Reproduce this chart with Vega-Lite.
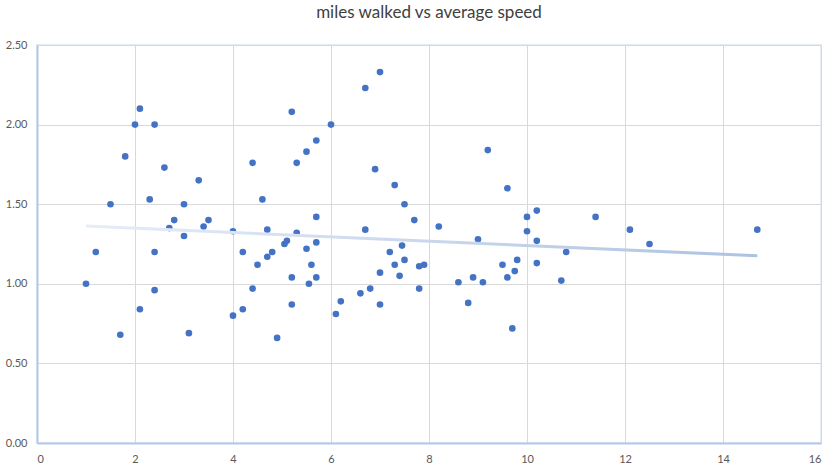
{
  "$schema": "https://vega.github.io/schema/vega-lite/v6.json",
  "autosize": {"type": "none"},
  "width": 784,
  "height": 398,
  "padding": {"left": 37, "top": 45, "right": 14, "bottom": 28},
  "background": "white",
  "title": {
    "text": "miles walked vs average speed",
    "font": "Lato",
    "fontSize": 17,
    "fontWeight": "normal",
    "color": "#404040",
    "offset": 17
  },
  "data": {
    "values": [
      {"miles": 1.0, "speed": 1.00}, {"miles": 1.2, "speed": 1.20}, {"miles": 1.5, "speed": 1.50},
      {"miles": 1.7, "speed": 0.68}, {"miles": 1.8, "speed": 1.80}, {"miles": 2.0, "speed": 2.00},
      {"miles": 2.1, "speed": 2.10}, {"miles": 2.1, "speed": 0.84}, {"miles": 2.3, "speed": 1.53},
      {"miles": 2.4, "speed": 2.00}, {"miles": 2.4, "speed": 1.20}, {"miles": 2.4, "speed": 0.96},
      {"miles": 2.6, "speed": 1.73}, {"miles": 2.7, "speed": 1.35}, {"miles": 2.8, "speed": 1.40},
      {"miles": 3.0, "speed": 1.50}, {"miles": 3.0, "speed": 1.30}, {"miles": 3.1, "speed": 0.69},
      {"miles": 3.3, "speed": 1.65}, {"miles": 3.4, "speed": 1.36}, {"miles": 3.5, "speed": 1.40},
      {"miles": 4.0, "speed": 1.33}, {"miles": 4.0, "speed": 0.80}, {"miles": 4.2, "speed": 1.20},
      {"miles": 4.2, "speed": 0.84}, {"miles": 4.4, "speed": 1.76}, {"miles": 4.4, "speed": 0.97},
      {"miles": 4.5, "speed": 1.12}, {"miles": 4.6, "speed": 1.53}, {"miles": 4.7, "speed": 1.34},
      {"miles": 4.7, "speed": 1.17}, {"miles": 4.8, "speed": 1.20}, {"miles": 4.9, "speed": 0.66},
      {"miles": 5.05, "speed": 1.25}, {"miles": 5.1, "speed": 1.27}, {"miles": 5.2, "speed": 2.08},
      {"miles": 5.2, "speed": 1.04}, {"miles": 5.2, "speed": 0.87}, {"miles": 5.3, "speed": 1.76},
      {"miles": 5.3, "speed": 1.32}, {"miles": 5.5, "speed": 1.83}, {"miles": 5.5, "speed": 1.22},
      {"miles": 5.55, "speed": 1.00}, {"miles": 5.6, "speed": 1.12}, {"miles": 5.7, "speed": 1.90},
      {"miles": 5.7, "speed": 1.42}, {"miles": 5.7, "speed": 1.26}, {"miles": 5.7, "speed": 1.04},
      {"miles": 6.0, "speed": 2.00}, {"miles": 6.1, "speed": 0.81}, {"miles": 6.2, "speed": 0.89},
      {"miles": 6.6, "speed": 0.94}, {"miles": 6.7, "speed": 2.23}, {"miles": 6.7, "speed": 1.34},
      {"miles": 6.8, "speed": 0.97}, {"miles": 6.9, "speed": 1.72}, {"miles": 7.0, "speed": 2.33},
      {"miles": 7.0, "speed": 1.07}, {"miles": 7.0, "speed": 0.87}, {"miles": 7.2, "speed": 1.20},
      {"miles": 7.3, "speed": 1.62}, {"miles": 7.3, "speed": 1.12}, {"miles": 7.4, "speed": 1.05},
      {"miles": 7.45, "speed": 1.24}, {"miles": 7.5, "speed": 1.50}, {"miles": 7.5, "speed": 1.15},
      {"miles": 7.7, "speed": 1.40}, {"miles": 7.8, "speed": 1.11}, {"miles": 7.8, "speed": 0.97},
      {"miles": 7.9, "speed": 1.12}, {"miles": 8.2, "speed": 1.36}, {"miles": 8.6, "speed": 1.01},
      {"miles": 8.8, "speed": 0.88}, {"miles": 8.9, "speed": 1.04}, {"miles": 9.0, "speed": 1.28},
      {"miles": 9.1, "speed": 1.01}, {"miles": 9.2, "speed": 1.84}, {"miles": 9.5, "speed": 1.12},
      {"miles": 9.6, "speed": 1.60}, {"miles": 9.6, "speed": 1.04}, {"miles": 9.7, "speed": 0.72},
      {"miles": 9.75, "speed": 1.08}, {"miles": 9.8, "speed": 1.15}, {"miles": 10.0, "speed": 1.42},
      {"miles": 10.0, "speed": 1.33}, {"miles": 10.2, "speed": 1.46}, {"miles": 10.2, "speed": 1.27},
      {"miles": 10.2, "speed": 1.13}, {"miles": 10.7, "speed": 1.02}, {"miles": 10.8, "speed": 1.20},
      {"miles": 11.4, "speed": 1.42}, {"miles": 12.1, "speed": 1.34}, {"miles": 12.5, "speed": 1.25},
      {"miles": 14.7, "speed": 1.34}
    ]
  },
  "encoding": {
    "x": {
      "field": "miles",
      "type": "quantitative",
      "title": null,
      "scale": {"domain": [0, 16], "nice": false, "zero": false},
      "axis": {
        "values": [0, 2, 4, 6, 8, 10, 12, 14, 16],
        "domainColor": "#b4c7e7",
        "domainWidth": 2,
        "ticks": false,
        "labelPadding": 10,
        "labelFont": "Lato",
        "labelFontSize": 11,
        "labelColor": "#595959",
        "gridColor": "#d9d9d9"
      }
    },
    "y": {
      "field": "speed",
      "type": "quantitative",
      "title": null,
      "scale": {"domain": [0, 2.5], "nice": false},
      "axis": {
        "values": [0, 0.5, 1, 1.5, 2, 2.5],
        "format": ".2f",
        "domainColor": "#b4c7e7",
        "domainWidth": 2,
        "ticks": false,
        "labelPadding": 10,
        "labelFont": "Lato",
        "labelFontSize": 11,
        "labelColor": "#595959",
        "gridColor": "#d9d9d9"
      }
    }
  },
  "layer": [
    {
      "mark": {"type": "circle", "size": 44, "color": "#4472c4", "opacity": 1}
    },
    {
      "transform": [{"regression": "speed", "on": "miles"}],
      "mark": {
        "type": "line",
        "strokeWidth": 3,
        "color": {
          "gradient": "linear",
          "x1": 0, "y1": 0, "x2": 1, "y2": 0,
          "stops": [
            {"offset": 0, "color": "#e6edf8"},
            {"offset": 1, "color": "#adc2e2"}
          ]
        }
      }
    }
  ],
  "config": {
    "view": {"stroke": "#e6ecf6", "strokeWidth": 2}
  }
}
